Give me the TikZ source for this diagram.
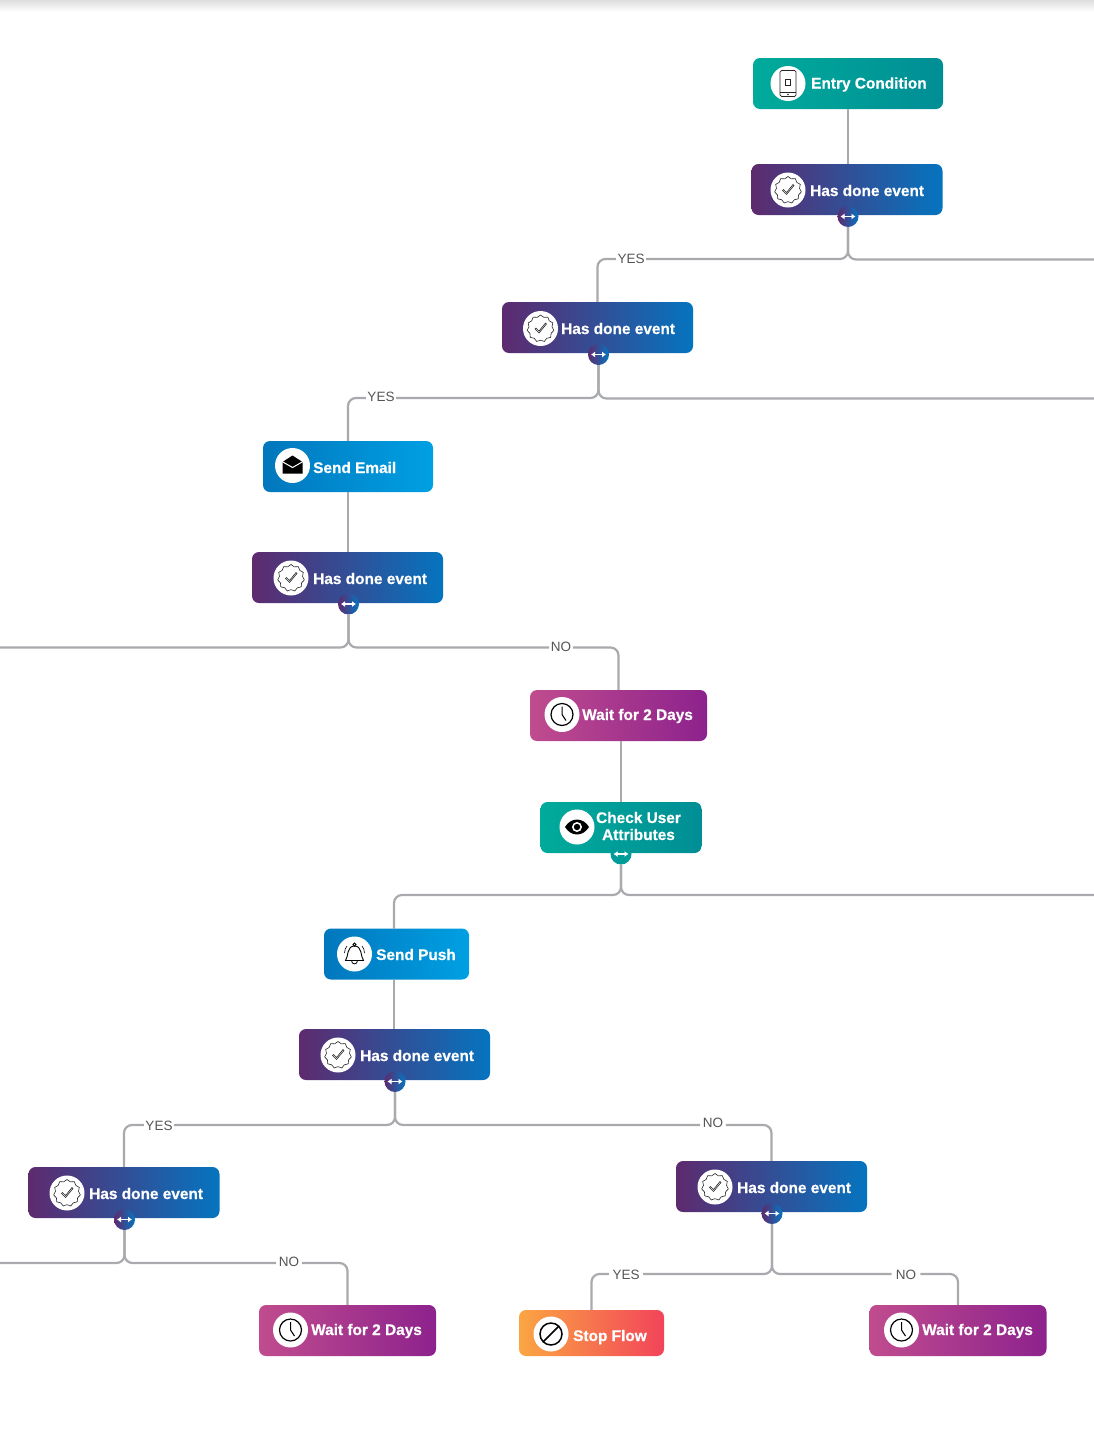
\documentclass[tikz,border=0pt]{standalone}
\usepackage{fontspec}
\setmainfont{Liberation Sans}[BoldFeatures={FakeBold=0.6}]
\usepackage{xcolor}
\usetikzlibrary{arrows.meta,calc,shapes.geometric}
\definecolor{tealA}{HTML}{00AB9B}
\definecolor{tealB}{HTML}{008E95}
\definecolor{doneA}{HTML}{5E2A6E}
\definecolor{doneB}{HTML}{0574BF}
\definecolor{sendA}{HTML}{0277BD}
\definecolor{sendB}{HTML}{00A0E3}
\definecolor{waitA}{HTML}{C04C8E}
\definecolor{waitB}{HTML}{8D228D}
\definecolor{stopA}{HTML}{FBA543}
\definecolor{stopB}{HTML}{F24459}
\definecolor{wire}{HTML}{A9AAAE}
\definecolor{wordgray}{HTML}{555555}

\begin{document}
\begin{tikzpicture}[
  x=1pt,y=-1pt,
  card/.style={rounded corners=7pt,inner sep=0pt,minimum height=51pt},
  entrycard/.style={card,left color=tealA,right color=tealB},
  donecard/.style={card,left color=doneA,right color=doneB,minimum width=191pt},
  sendcard/.style={card,left color=sendA,right color=sendB},
  waitcard/.style={card,left color=waitA,right color=waitB,minimum width=177pt},
  stopcard/.style={card,left color=stopA,right color=stopB,minimum width=145pt,minimum height=46pt},
  disc/.style={circle,fill=white,minimum size=35pt,inner sep=0pt},
  cardword/.style={text=white,font=\fontsize{15.4}{17}\selectfont\bfseries,inner sep=0pt,anchor=west,text height=11pt,text depth=3pt},
  edgeword/.style={text=wordgray,font=\fontsize{13.5}{15}\selectfont,inner xsep=1.5pt,inner ysep=0pt,text height=10pt,text depth=2pt},
  knob/.style={circle,minimum size=21pt,inner sep=0pt,left color=doneA,right color=doneB},
  tealknob/.style={circle,minimum size=21pt,inner sep=0pt,fill=tealB!50!tealA},
  link/.style={draw=wire,line width=2.2pt,rounded corners=8pt},
  % icons that sit on the white discs
  pics/swap/.style={code={
    \draw[white,line width=1.4pt,{Latex[length=4pt,width=6pt]}-{Latex[length=4pt,width=6pt]}] (-7.5,0) -- (7.5,0);
  }},
  pics/badge/.style={code={
    \node[draw=black!85,line width=.6pt,star,star points=11,star point ratio=1.16,minimum size=27pt,inner sep=0pt] at (0,0) {};
    \draw[black!85,line width=.6pt] (-5.5,.5) -- (-1.5,4.5) -- (6,-4.5) -- (5,-5.5) -- (-1.5,2.5) -- (-4.5,-.5) -- cycle;
  }},
  pics/phone/.style={code={
    \draw[black!85,line width=.7pt,rounded corners=1.5pt] (-8,-13) rectangle (8,13);
    \draw[black!85,line width=.7pt] (-8,9) -- (8,9);
    \draw[black!85,line width=.7pt] (-2.5,-4) rectangle (2.5,2);
    \fill[black!85] (0,11) circle (.9);
  }},
  pics/envelope/.style={code={
    \fill[black] (-10,-3.5) -- (0,-10) -- (10,-3.5) -- (10,8) -- (-10,8) -- cycle;
    \draw[white,line width=1pt] (-10.5,-4) -- (0,2) -- (10.5,-4);
  }},
  pics/clock/.style={code={
    \draw[black,line width=1.2pt] (0,0) circle (11);
    \draw[black,line width=1pt] (0,-8) -- (0,0) -- (4,6);
  }},
  pics/eye/.style={code={
    \fill[black] (-12,0) .. controls (-6,-10) and (6,-10) .. (12,0) .. controls (6,10) and (-6,10) .. (-12,0) -- cycle;
    \fill[white] (0,0) circle (5);
    \fill[black] (0,0) circle (3.2);
  }},
  pics/bell/.style={code={
    \draw[black,line width=.9pt] (-9,6.5) .. controls (-6,3) and (-8,-8) .. (0,-8) .. controls (8,-8) and (6,3) .. (9,6.5) -- cycle;
    \draw[black,line width=.8pt] (0,-9.5) circle (1.5);
    \draw[black,line width=.8pt] (-3,6.5) .. controls (-3,11) and (3,11) .. (3,6.5);
    \draw[black,line width=.6pt] (-10,-1) .. controls (-10,-4) and (-9,-6) .. (-7.5,-8);
    \draw[black,line width=.6pt] (10,-1) .. controls (10,-4) and (9,-6) .. (7.5,-8);
  }},
  pics/stopsign/.style={code={
    \draw[black,line width=1.5pt] (0,0) circle (11);
    \draw[black,line width=1.5pt] (-7.8,7.8) -- (7.8,-7.8);
  }}
]
\path[use as bounding box,fill=white] (0,0) rectangle (1094,1440);
\shade[top color=black!13,bottom color=white] (0,0) rectangle (1094,12);

% cards, top to bottom
\node[entrycard,minimum width=190pt] (entry) at (848,83.5) {};
\node[donecard] (done1) at (847,189.5) {};
\node[donecard] (done2) at (597.5,327.5) {};
\node[sendcard,minimum width=170pt] (email) at (348,466.5) {};
\node[donecard] (done3) at (347.5,577.5) {};
\node[waitcard] (wait1) at (618.5,715.5) {};
\node[entrycard,minimum width=161pt] (check) at (621,827.5) {};
\node[sendcard,minimum width=145pt] (push) at (396.5,954) {};
\node[donecard] (done4) at (394.5,1054.5) {};
\node[donecard] (done5) at (124,1192.5) {};
\node[donecard] (done6) at (771.5,1186.5) {};
\node[waitcard] (wait2) at (347.5,1330.5) {};
\node[stopcard] (stop) at (591.5,1333) {};
\node[waitcard] (wait3) at (958,1330.5) {};

% white discs and their icons
\node[disc] (entryicon) at (788,83.5) {};
\pic at (entryicon) {phone};
\node[disc] (emailicon) at (292.5,465.5) {};
\pic at (emailicon) {envelope};
\node[disc] (checkicon) at (577,827) {};
\pic at (checkicon) {eye};
\node[disc] (pushicon) at (354.5,954) {};
\pic at (pushicon) {bell};
\node[disc] (stopicon) at (551,1334) {};
\pic at (stopicon) {stopsign};
\foreach \name/\x/\y in {done1/788/190,done2/540.5/328.5,done3/291/578,done4/338/1055,done5/67/1193,done6/715/1187} {
  \node[disc] (\name icon) at (\x,\y) {};
  \pic at (\name icon) {badge};
}
\foreach \name/\x/\y in {wait1/562/714.5,wait2/290.5/1330,wait3/901.5/1330} {
  \node[disc] (\name icon) at (\x,\y) {};
  \pic at (\name icon) {clock};
}

% card texts
\node[cardword] (entrytext) at (811,84.5) {Entry Condition};
\node[cardword] (emailtext) at (313,469) {Send Email};
\node[cardword,align=center,anchor=center,text height=,text depth=,font=\fontsize{15.4}{17}\selectfont\bfseries] (checktext) at (638.5,826) {Check User\\Attributes};
\node[cardword] (pushtext) at (376,956) {Send Push};
\node[cardword] (stoptext) at (573,1337) {Stop Flow};
\foreach \name/\x/\y in {done1/810/192,done2/561/330,done3/313/580,done4/360/1057,done5/89/1195,done6/737/1189}
  \node[cardword] (\name text) at (\x,\y) {Has done event};
\foreach \name/\x/\y in {wait1/582/716,wait2/311/1331,wait3/922/1331}
  \node[cardword] (\name text) at (\x,\y) {Wait for 2 Days};

% branch knobs
\node[knob] (knob1) at (848,216.5) {};
\node[knob] (knob2) at (598.5,354.5) {};
\node[knob] (knob3) at (348.5,604) {};
\node[tealknob] (knob4) at (621,854) {};
\node[knob] (knob5) at (395,1081.5) {};
\node[knob] (knob6) at (124.5,1219.5) {};
\node[knob] (knob7) at (772,1213.5) {};
\foreach \k in {1,...,7} \pic at (knob\k) {swap};

% branch words
\node[edgeword] (yes1) at (631,259) {YES};
\node[edgeword,text depth=4pt] (yes2) at (381,398) {YES};
\node[edgeword] (no3) at (561,647.5) {NO};
\node[edgeword,text depth=0pt] (yes5) at (159,1125) {YES};
\node[edgeword,inner xsep=2.5pt,text depth=6pt] (no5) at (713,1125) {NO};
\node[edgeword,inner xsep=2.5pt,text depth=4pt] (no6) at (289,1263) {NO};
\node[edgeword,inner xsep=3.5pt,text depth=0pt] (yes7) at (626,1274) {YES};
\node[edgeword,inner xsep=4pt,text depth=0pt] (no7) at (906,1274) {NO};

% free ends at the picture border
\coordinate (out1) at (1094,259.5);
\coordinate (out2) at (1094,398.5);
\coordinate (out3) at (0,647.5);
\coordinate (out4) at (1094,895);
\coordinate (split4) at (621,895);
\coordinate (pushin) at (394,929);
\coordinate (out6) at (0,1263);

\draw[link] (entry.south) -- (done1.north -| entry.south);
\draw[link] (knob1.south) |- (yes1.east);
\draw[link] (yes1.west) -| (done2.north);
\draw[link] (knob1.south) |- (out1);
\draw[link] (knob2.south) |- (yes2.east);
\draw[link] (yes2.west) -| (email.north);
\draw[link] (knob2.south) |- (out2);
\draw[link] (email.south) -- (done3.north -| email.south);
\draw[link] (knob3.south) |- (out3);
\draw[link] (knob3.south) |- (no3.west);
\draw[link] (no3.east) -| (wait1.north);
\draw[link] (check.north) -- (wait1.south -| check.north);
\draw[link] (knob4.south) -- (split4) -| (pushin);
\draw[link] (knob4.south) |- (out4);
\draw[link] (push.south -| pushin) -- (done4.north -| pushin);
\draw[link] (knob5.south) |- (yes5.east);
\draw[link] (yes5.west) -| (done5.north);
\draw[link] (knob5.south) |- (no5.west);
\draw[link] (no5.east) -| (done6.north);
\draw[link] (knob6.south) |- (out6);
\draw[link] (knob6.south) |- (no6.west);
\draw[link] (no6.east) -| (wait2.north);
\draw[link] (knob7.south) |- (yes7.east);
\draw[link] (yes7.west) -| (stop.north);
\draw[link] (knob7.south) |- (no7.west);
\draw[link] (no7.east) -| (wait3.north);
\end{tikzpicture}
\end{document}
